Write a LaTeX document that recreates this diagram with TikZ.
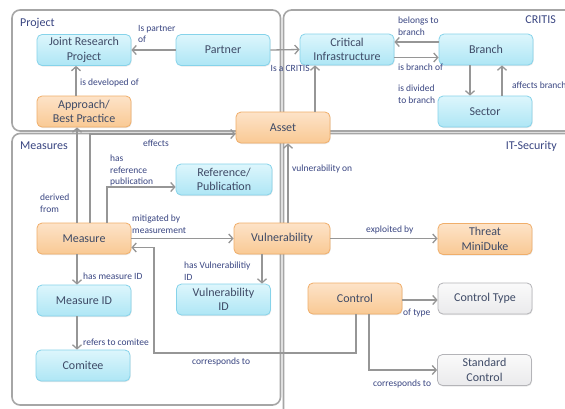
\documentclass[tikz,border=0pt]{standalone}
\usepackage{fontspec}
\setmainfont{Carlito}
\usetikzlibrary{arrows.meta,shadows}
\definecolor{cyT}{HTML}{DDF6FC}
\definecolor{cyM}{HTML}{AEE6F5}
\definecolor{cyD}{HTML}{86D3EA}
\definecolor{orT}{HTML}{FDE3C8}
\definecolor{orM}{HTML}{F9C994}
\definecolor{orD}{HTML}{F0AE6A}
\definecolor{grT}{HTML}{FAFAFA}
\definecolor{grM}{HTML}{EAEAEC}
\definecolor{grD}{HTML}{B4B4B8}
\definecolor{ntxt}{HTML}{3E4A66}
\definecolor{ltxt}{HTML}{3A4682}
\definecolor{conn}{HTML}{969696}
\definecolor{frame}{HTML}{A6A6A6}
\tikzset{
  nbox/.style={rounded corners=5pt, line width=0.8pt, minimum width=94pt, minimum height=31pt,
    align=center, inner sep=1pt, text=ntxt, font=\fontsize{12}{14.5}\selectfont,
    drop shadow={shadow xshift=0.6pt, shadow yshift=-1pt, opacity=0.18}},
  cyn/.style={nbox, draw=cyD, top color=cyT, bottom color=cyM},
  orn/.style={nbox, draw=orD, top color=orT, bottom color=orM},
  grn/.style={nbox, draw=grD, top color=grT, bottom color=grM},
  cont/.style={draw=frame, line width=1.6pt, rounded corners=8pt},
  ctitle/.style={text=ltxt, font=\fontsize{12}{14}\selectfont, inner sep=0pt},
  lbl/.style={text=ltxt, font=\fontsize{9.5}{11.5}\selectfont, inner sep=0pt, align=left},
  link/.style={draw=conn, line width=1.3pt, -{Straight Barb[length=4pt,width=9pt]}},
  plain/.style={draw=conn, line width=1.3pt}
}
\begin{document}
\begin{tikzpicture}[x=1pt,y=-1pt]
\useasboundingbox (0,0) rectangle (565,408);
\clip (0,0) rectangle (565,408);
\fill[white] (0,0) rectangle (565,408);
% containers
\draw[cont] (12,10) rectangle (280.5,131);
\draw[cont] (283.5,10) rectangle (590,131);
\draw[cont] (12,133.5) rectangle (280.5,405);
\draw[cont] (283.5,133.5) rectangle (590,430);
\node[ctitle, anchor=west] (tproj) at (20,23) {Project};
\node[ctitle, anchor=east] (tcritis) at (556,20) {CRITIS};
\node[ctitle, anchor=west] (tmeas) at (20,146) {Measures};
\node[ctitle, anchor=east] (tits) at (557,146) {IT-Security};
% nodes
\node[cyn] (jrp) at (84,50) {Joint Research\\Project};
\node[cyn] (partner) at (223,50) {Partner};
\node[orn] (appr) at (84,111.5) {Approach/\\Best Practice};
\node[cyn] (ci) at (347,49.5) {Critical\\Infrastructure};
\node[cyn] (branch) at (486,49.5) {Branch};
\node[cyn] (sector) at (485,111.5) {Sector};
\node[orn] (asset) at (283,127.5) {Asset};
\node[cyn, minimum width=96pt] (ref) at (224,179.5) {Reference/\\Publication};
\node[orn] (measure) at (84,238.5) {Measure};
\node[orn, minimum width=96pt] (vuln) at (282,238.5) {Vulnerability};
\node[orn] (threat) at (485,239) {Threat\\MiniDuke};
\node[cyn] (mid) at (84,300.5) {Measure ID};
\node[cyn] (vid) at (223.5,299.5) {Vulnerability\\ID};
\node[orn] (control) at (355,298.5) {Control};
\node[grn] (ctype) at (485,298.5) {Control Type};
\node[cyn] (comitee) at (83,365.5) {Comitee};
\node[grn] (std) at (484.5,370) {Standard\\Control};
% connectors
\draw[link] (partner.west) -- (jrp.east);
\draw[link] (partner.east) -- (ci.west);
\draw[link] ([xshift=-8pt]appr.north) -- ([xshift=-8pt]jrp.south);
\draw[link] ([yshift=7.5pt]branch.west) -- ([yshift=7.5pt]ci.east);
\draw[link] ([yshift=-8pt]ci.east) -- ([yshift=-8pt]branch.west);
\draw[link] ([xshift=-16pt]branch.south) -- ([xshift=-15pt]sector.north);
\draw[link] ([xshift=17pt]sector.north) -- ([xshift=16pt]branch.south);
\draw[link] ([xshift=32pt]asset.north) -- ([xshift=32pt]asset.north |- ci.south);
\draw[link] ([xshift=6pt]measure.north) |- ([yshift=-6.5pt]asset.west);
\draw[link] ([xshift=-7pt]measure.north) -- ([xshift=-7pt]appr.south);
\draw[link] ([xshift=23pt]measure.north) |- ([yshift=-7.5pt]ref.west);
\draw[link] (measure.east) -- (vuln.west);
\draw[link] ([xshift=6pt]vuln.north) -- ([xshift=6pt]vuln.north |- asset.south);
\draw[link] (vuln.east) -- (vuln.east -| threat.west);
\draw[link] ([xshift=-20pt]vuln.south) -- ([xshift=-20pt]vuln.south |- vid.north);
\draw[link] ([xshift=-7pt]measure.south) -- ([xshift=-7pt]mid.south |- mid.north);
\draw[link] ([xshift=-7pt]mid.south) -- ([xshift=-7pt]mid.south |- comitee.north);
\coordinate (cm1) at (356,353);
\coordinate (cm2) at (154,353);
\draw[link] (cm1 |- control.south) -- (cm1) -- (cm2) |- ([yshift=-9pt]measure.east);
\draw[link] ([yshift=-1.5pt]control.east) -- ([yshift=-1.5pt]control.east -| ctype.west);
\draw[link] ([xshift=14pt]control.south) |- (std.west);
% labels
\node[lbl, anchor=west] (l1) at (138,34) {Is partner\\of};
\node[lbl, anchor=west] (l2) at (270.5,68.5) {Is a CRITIS};
\node[lbl, anchor=west] (l3) at (80,83) {is developed of};
\node[lbl, anchor=west] (l4) at (398,26) {belongs to\\branch};
\node[lbl, anchor=west] (l5) at (398,67.5) {is branch of};
\node[lbl, anchor=west] (l6) at (398,94) {is divided\\to branch};
\node[lbl, anchor=west] (l7) at (512,85.5) {affects branch};
\node[lbl, anchor=west] (l8) at (143,143.5) {effects};
\node[lbl, anchor=west] (l9) at (110,170.5) {has\\reference\\publication};
\node[lbl, anchor=west] (l10) at (40,203) {derived\\from};
\node[lbl, anchor=west] (l11) at (132,224) {mitigated by\\measurement};
\node[lbl, anchor=west] (l12) at (292,168.5) {vulnerability on};
\node[lbl, anchor=west] (l13) at (366,229.5) {exploited by};
\node[lbl, anchor=west] (l14) at (184,271) {has Vulnerabilitiy\\ID};
\node[lbl, anchor=west] (l15) at (83,276.5) {has measure ID};
\node[lbl, anchor=west] (l16) at (83,342) {refers to comitee};
\node[lbl, anchor=west] (l17) at (192,362) {corresponds to};
\node[lbl, anchor=west] (l18) at (403,313) {of type};
\node[lbl, anchor=west] (l19) at (373,384) {corresponds to};
\end{tikzpicture}
\end{document}
